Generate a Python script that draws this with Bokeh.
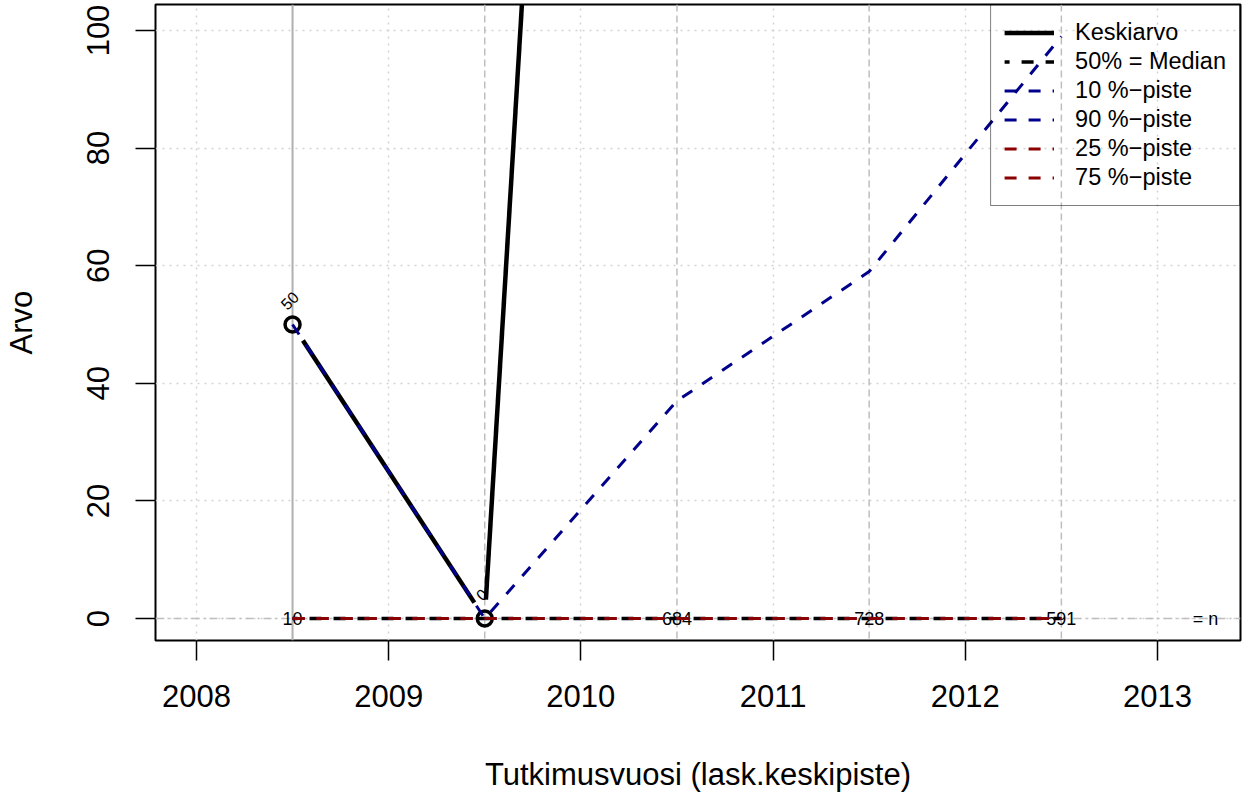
import math
from bokeh.plotting import figure
from bokeh.models import Range1d, FixedTicker, Span, Legend, LegendItem
from bokeh.core.properties import value
from bokeh.embed import file_html
from bokeh.resources import INLINE

# ---- data ----
years = [2008.5, 2009.5, 2010.5, 2011.5, 2012.5]
keskiarvo = [50, 0, 540, 600, 550]
median = [0, 0, 0, 0, 0]
p10 = [0, 0, 0, 0, 0]
p90 = [50, 0, 37, 59, 99]
p25 = [0, 0, 0, 0, 0]
p75 = [0, 0, 0, 0, 0]
n_labels = ["10", "", "684", "728", "591"]
x_ticks = [2008, 2009, 2010, 2011, 2012, 2013]
y_ticks = [0, 20, 40, 60, 80, 100]
legend_labels = ["Keskiarvo", "50% = Median", "10 %\u2212piste", "90 %\u2212piste",
                 "25 %\u2212piste", "75 %\u2212piste"]

FONT = "Liberation Sans"
X0, X1 = 2007.787, 2013.432
Y0, Y1 = -3.74, 104.42
W, H = 1242, 796
ML, MR, MT, MB = 154, 2, 4, 156
FW, FH = W - ML - MR, H - MT - MB

p = figure(width=W, height=H, x_range=Range1d(X0, X1), y_range=Range1d(Y0, Y1),
           output_backend="svg", toolbar_location=None,
           min_border_left=ML, min_border_right=MR, min_border_top=MT, min_border_bottom=MB)
p.background_fill_color = "white"
p.border_fill_color = "white"
p.outline_line_color = "black"
p.outline_line_width = 2

# grid (R grid(): dotted lightgray)
for g in (p.xgrid, p.ygrid):
    g.grid_line_color = "#d3d3d3"
    g.grid_line_dash = "2 5"
    g.grid_line_width = 1.5
p.xgrid.ticker = FixedTicker(ticks=x_ticks)
p.ygrid.ticker = FixedTicker(ticks=y_ticks)

# vertical reference lines at data years
for i, yr in enumerate(years):
    s = Span(location=yr, dimension="height", line_color="#bebebe", line_width=1.5,
             level="underlay")
    if i > 0:
        s.line_dash = "7 4"
    else:
        s.line_color = "#b0b0b0"
        s.line_width = 2
    p.add_layout(s)
p.add_layout(Span(location=0, dimension="width", line_color="#bebebe", line_width=1.5,
                  line_dash="8 4 2 4", level="underlay"))

# n labels (drawn first, lines over them)
p.text(x=years, y=[0] * len(years), text=n_labels, text_font=value(FONT),
       text_font_size=value("18px"), text_align="center", text_baseline="middle",
       text_color="black")
p.text(x=[2013.25], y=[0], text=["= n"], text_font=value(FONT),
       text_font_size=value("18px"), text_align="center", text_baseline="middle",
       text_color="black")

# mean line, type="b" (gaps around points)
pxx = FW / (X1 - X0)
pxy = FH / (Y1 - Y0)
gap = 19.0
sx0, sy0, sx1, sy1 = [], [], [], []
for i in range(len(years) - 1):
    xa, ya, xb, yb = years[i], keskiarvo[i], years[i + 1], keskiarvo[i + 1]
    L = math.hypot((xb - xa) * pxx, (yb - ya) * pxy)
    t = gap / L
    sx0.append(xa + t * (xb - xa)); sy0.append(ya + t * (yb - ya))
    sx1.append(xb - t * (xb - xa)); sy1.append(yb - t * (yb - ya))
r_mean = p.segment(x0=sx0, y0=sy0, x1=sx1, y1=sy1, line_color="black", line_width=4.5)
p.scatter(x=years, y=keskiarvo, marker="circle", size=15, fill_color=None,
          line_color="black", line_width=3.5)
vis = [(x, v) for x, v in zip(years, keskiarvo) if Y0 <= v <= Y1]
p.text(x=[a for a, _ in vis], y=[b for _, b in vis], text=[str(b) for _, b in vis],
       angle=math.pi / 4, x_offset=-3, y_offset=-24, text_font=value(FONT),
       text_font_size=value("16px"), text_align="center", text_baseline="middle",
       text_color="black")

dash = "12 12"
r_med = p.line(years, median, line_color="black", line_width=3.5, line_dash=dash,
               line_dash_offset=7)
r_p10 = p.line(years, p10, line_color="#00008B", line_width=3, line_dash=dash)
r_p90 = p.line(years, p90, line_color="#00008B", line_width=3, line_dash=dash)
r_p25 = p.line(years, p25, line_color="#8B0000", line_width=3, line_dash=dash)
r_p75 = p.line(years, p75, line_color="#8B0000", line_width=3, line_dash=dash)

renderers = [r_mean, r_med, r_p10, r_p90, r_p25, r_p75]
legend = Legend(items=[LegendItem(label=l, renderers=[r]) for l, r in zip(legend_labels, renderers)],
                location="top_right")
legend.border_line_color = "black"
legend.border_line_width = 1.5
legend.background_fill_alpha = 0
legend.label_text_font = FONT
legend.label_text_font_size = "23.5px"
legend.label_text_color = "black"
legend.glyph_width = 50
legend.glyph_height = 29
legend.label_height = 29
legend.spacing = 0
legend.padding = 13
legend.margin = 0
legend.label_standoff = 21
p.add_layout(legend, "center")

# axes
p.xaxis.ticker = FixedTicker(ticks=x_ticks)
p.yaxis.ticker = FixedTicker(ticks=y_ticks)
for ax in (p.xaxis[0], p.yaxis[0]):
    ax.axis_line_color = None
    ax.major_tick_out = 20
    ax.major_tick_in = 0
    ax.major_tick_line_width = 1.5
    ax.major_tick_line_color = "black"
    ax.minor_tick_line_color = None
    ax.major_label_text_font = FONT
    ax.major_label_text_font_size = "31px"
    ax.major_label_text_color = "black"
    ax.axis_label_text_font = FONT
    ax.axis_label_text_font_size = "31px"
    ax.axis_label_text_font_style = "normal"
    ax.axis_label_text_color = "black"
p.xaxis.axis_label = "Tutkimusvuosi (lask.keskipiste)"
p.yaxis.axis_label = "Arvo"
p.xaxis.major_label_standoff = 24
p.xaxis.axis_label_standoff = 47
p.yaxis.major_label_orientation = "vertical"
p.yaxis.major_label_standoff = 26
p.yaxis.axis_label_standoff = 46

open("out.html", "w").write(file_html(p, INLINE))
